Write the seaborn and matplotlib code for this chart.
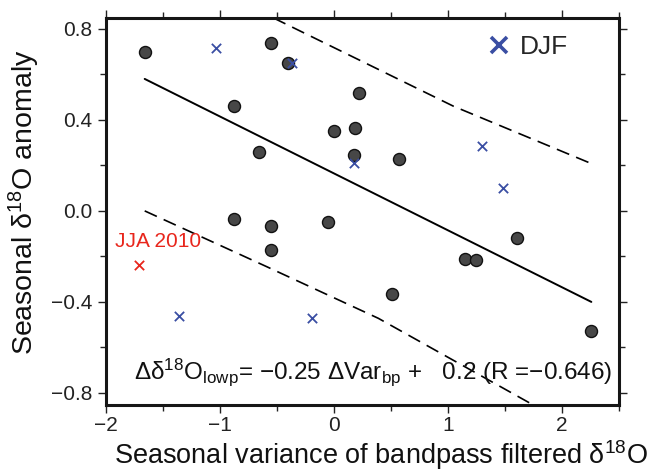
import numpy as np
import pandas as pd
import matplotlib
matplotlib.use("Agg")
import matplotlib.pyplot as plt
from matplotlib.lines import Line2D
from matplotlib.ticker import MultipleLocator
import seaborn as sns

# Datos
# Estaciones (circulos grises)
var_bp = [-1.66, -0.555, -0.405, 0.22, -0.88, 0.0, 0.19, -0.66, 0.18, 0.57,
          -0.88, -0.555, -0.05, -0.555, 1.61, 1.15, 1.25, 0.51, 2.26]
anom = [0.70, 0.74, 0.65, 0.52, 0.46, 0.35, 0.365, 0.26, 0.245, 0.23,
        -0.035, -0.065, -0.05, -0.17, -0.12, -0.21, -0.215, -0.365, -0.53]

# DJF (cruces azules)
djf_x = [-1.035, -0.365, 0.18, 1.30, 1.485, -1.36, -0.19]
djf_y = [0.715, 0.65, 0.21, 0.285, 0.10, -0.46, -0.47]

# JJA 2010 (cruz roja)
jja_x = [-1.71]
jja_y = [-0.24]

# Recta de regresion y bandas
fit_x = [-1.66, 2.26]
fit_y = [0.58, -0.40]
up_x = [-0.53, 1.05, 2.25]
up_y = [0.848, 0.46, 0.21]
lo_x = [-1.66, -0.59, 0.39, 1.75]
lo_y = [0.0, -0.245, -0.472, -0.853]

BLUE = '#3a4ea3'
RED = '#e8261c'

sns.set_theme(style="ticks")
plt.rcParams['font.family'] = ['Liberation Sans', 'DejaVu Sans']
plt.rcParams['mathtext.fontset'] = 'custom'
plt.rcParams['mathtext.rm'] = 'Liberation Sans'
plt.rcParams['mathtext.it'] = 'Liberation Sans:italic'

fig = plt.figure(figsize=(6.54, 4.72), dpi=100)
ax = fig.add_axes([0.162, 0.142, 0.784, 0.820])

sns.lineplot(x=fit_x, y=fit_y, ax=ax, color='black', lw=1.4, sort=False)
sns.lineplot(x=up_x, y=up_y, ax=ax, color='black', lw=1.2, sort=False).lines[-1].set_dashes((8, 4.5))
sns.lineplot(x=lo_x, y=lo_y, ax=ax, color='black', lw=1.2, sort=False).lines[-1].set_dashes((8, 4.5))

sns.scatterplot(x=var_bp, y=anom, ax=ax, s=75, color='#474747',
                edgecolor='#111111', linewidth=1.0, zorder=3)
sns.scatterplot(x=djf_x, y=djf_y, ax=ax, marker='x', s=45, color=BLUE,
                linewidth=1.3, zorder=4)
sns.scatterplot(x=jja_x, y=jja_y, ax=ax, marker='x', s=45, color=RED,
                linewidth=1.3, zorder=4)

ax.text(-1.545, -0.135, 'JJA 2010', color=RED, fontsize=15,
        ha='center', va='center')
ax.text(0.345, -0.71,
        'Δδ$^{18}$O$_{\\mathrm{lowp}}$= −0.25 ΔVar$_{\\mathrm{bp}}$ +   0.2 (R =−0.646)',
        fontsize=17.5, ha='center', va='center', color='#111111')

# Leyenda
h = Line2D([], [], ls='none', marker='x', markersize=11, mew=2.6, color=BLUE)
ax.legend([h], ['DJF'], loc='center left', bbox_to_anchor=(0.74, 0.925),
          frameon=False, fontsize=19, handletextpad=0.3, handlelength=1.0,
          borderaxespad=0, borderpad=0)

ax.set_xlim(-2.0, 2.5)
ax.set_ylim(-0.853, 0.848)
ax.xaxis.set_minor_locator(MultipleLocator(0.5))
ax.yaxis.set_minor_locator(MultipleLocator(0.2))
ax.set_xticks([-2, -1, 0, 1, 2])
ax.set_xticklabels(['−2', '−1', '0', '1', '2'])
ax.set_yticks([-0.8, -0.4, 0.0, 0.4, 0.8])
ax.set_yticklabels(['−0.8', '−0.4', '0.0', '0.4', '0.8'])

ax.tick_params(which='both', direction='out', top=True, right=True,
               labeltop=False, labelright=False, colors='#222222',
               labelsize=15, width=1.0)
ax.tick_params(which='major', length=6, pad=4)
ax.tick_params(axis='x', which='major', pad=2)
ax.tick_params(which='minor', length=4)
for s in ax.spines.values():
    s.set_linewidth(2.2)
    s.set_color('#161616')

ax.set_xlabel('Seasonal variance of bandpass filtered δ$^{18}$O', fontsize=19.5,
              color='#111111')
ax.set_ylabel('Seasonal δ$^{18}$O anomaly', fontsize=20.5, color='#111111')
ax.xaxis.set_label_coords(0.536, -0.085)
ax.yaxis.set_label_coords(-0.125, 0.523)

fig.savefig('out.png', dpi=100)
